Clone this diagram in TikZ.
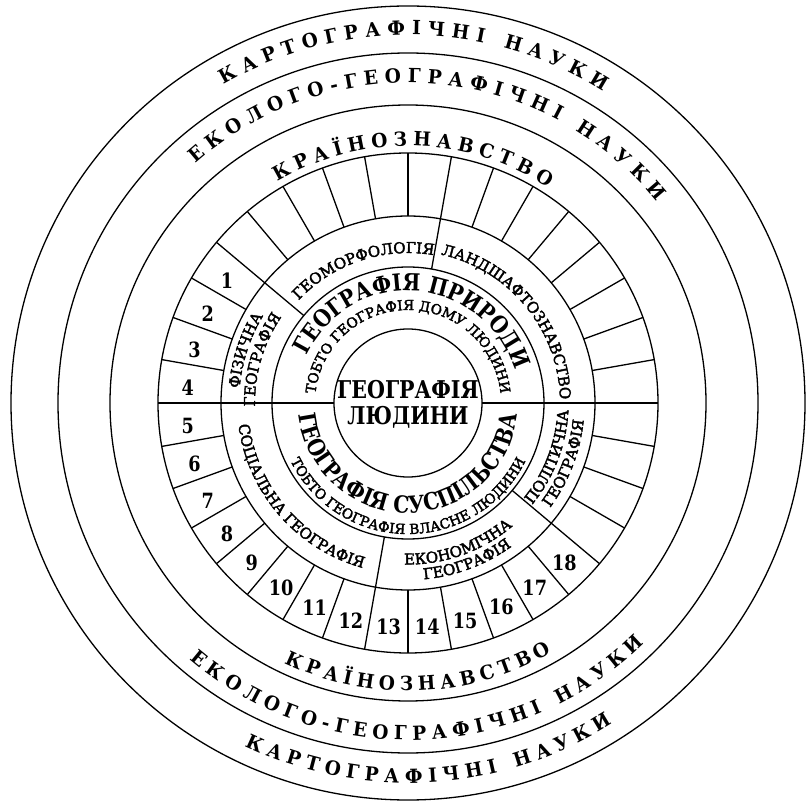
\documentclass[tikz,border=0pt]{standalone}
\usepackage{fontspec}
\setmainfont{DejaVu Serif}[FakeBold=2.5]
\newfontfamily\corefont[FakeStretch=0.84]{DejaVu Serif}
\newfontfamily\bigfont[FakeStretch=0.86]{DejaVu Serif}
\newfontfamily\bandfont[FakeStretch=0.95]{DejaVu Serif}
\usetikzlibrary{decorations.text}

\newcommand\bandsize{\bandfont\bfseries\fontsize{19.5}{21}\selectfont}
\newcommand\ringsize{\fontsize{15}{17}\selectfont}
\newcommand\bigsize{\bigfont\bfseries\fontsize{23.5}{25}\selectfont}
\newcommand\smallsize{\fontsize{13.8}{15}\selectfont}

\tikzset{
  ringline/.style={line width=1.3pt},
  fitarc/.style={decorate,decoration={text along path,text align=fit to path,text={|\bandsize|#1}}},
  midarc/.style={decorate,decoration={text along path,text align=center,text={#1}}},
  cellnum/.style={font=\corefont\bfseries\fontsize{21}{23}\selectfont},
  core/.style={anchor=base,font=\corefont\bfseries\fontsize{24.5}{26}\selectfont}
}

\begin{document}
\begin{tikzpicture}[x=1pt,y=1pt]
\useasboundingbox (-408,-402) rectangle (400,403);
\foreach \r in {397,350,298,250,187,136,74} \draw[ringline] (0,0) circle (\r);
\foreach \a in {0,10,...,350} \draw[ringline] (\a:187) -- (\a:250);
\draw[ringline] (180:74) -- (180:187);
\draw[ringline] (0:74) -- (0:187);
\foreach \a in {80,140,260,320} \draw[ringline] (\a:136) -- (\a:187);

\foreach \n in {1,...,18} {
  \pgfmathsetmacro\ang{135+10*\n}
  \node[cellnum,yshift=-4pt] (cell\n) at (\ang:221) {\n};
}

\path[fitarc={КАРТОГРАФІЧНІ НАУКИ}] (120:368) arc[start angle=120,end angle=58,radius=368];
\path[fitarc={ЕКОЛОГО-ГЕОГРАФІЧНІ НАУКИ}] (131.5:320) arc[start angle=131.5,end angle=39,radius=320];
\path[fitarc={КРАЇНОЗНАВСТВО}] (120.5:257) arc[start angle=120.5,end angle=57,radius=257];
\path[fitarc={КАРТОГРАФІЧНІ НАУКИ}] (244.5:380) arc[start angle=244.5,end angle=302.5,radius=380];
\path[fitarc={ЕКОЛОГО-ГЕОГРАФІЧНІ НАУКИ}] (229.5:337) arc[start angle=229.5,end angle=314.5,radius=337];
\path[fitarc={КРАЇНОЗНАВСТВО}] (244.5:288) arc[start angle=244.5,end angle=300,radius=288];

\path[midarc={|\ringsize|ГЕОМОРФОЛОГІЯ}] (148.5:150) arc[start angle=148.5,end angle=68.5,radius=150];
\path[midarc={|\ringsize|ЛАНДШАФТОЗНАВСТВО}] (84.4:152) arc[start angle=84.4,end angle=-5.6,radius=152];
\path[midarc={|\ringsize|ФІЗИЧНА}] (200:169) arc[start angle=200,end angle=124,radius=169];
\path[midarc={|\ringsize|ГЕОГРАФІЯ}] (201.5:153) arc[start angle=201.5,end angle=125.5,radius=153];
\path[midarc={|\ringsize|СОЦІАЛЬНА ГЕОГРАФІЯ}] (166:171) arc[start angle=166,end angle=276,radius=171];
\path[midarc={|\ringsize|ЕКОНОМІЧНА}] (245:161.5) arc[start angle=245,end angle=334,radius=161.5];
\path[midarc={|\ringsize|ГЕОГРАФІЯ}] (246:177) arc[start angle=246,end angle=335,radius=177];
\path[midarc={|\ringsize|ПОЛІТИЧНА}] (301:160.5) arc[start angle=301,end angle=377,radius=160.5];
\path[midarc={|\ringsize|ГЕОГРАФІЯ}] (301:176.5) arc[start angle=301,end angle=377,radius=176.5];

\path[midarc={|\bigsize|ГЕОГРАФІЯ ПРИРОДИ}] (174:112) arc[start angle=174,end angle=-2,radius=112];
\path[midarc={|\smallsize|ТОБТО ГЕОГРАФІЯ ДОМУ ЛЮДИНИ}] (182:93) arc[start angle=182,end angle=-2,radius=93];
\path[midarc={|\bigsize|ГЕОГРАФІЯ СУСПІЛЬСТВА}] (178:110) arc[start angle=178,end angle=362,radius=110];
\path[midarc={|\smallsize|ТОБТО ГЕОГРАФІЯ ВЛАСНЕ ЛЮДИНИ}] (190:131) arc[start angle=190,end angle=350,radius=131];

\node[core] (geo) at (0,4.5) {ГЕОГРАФІЯ};
\node[core] (lyud) at (0,-21.5) {ЛЮДИНИ};
\end{tikzpicture}
\end{document}
